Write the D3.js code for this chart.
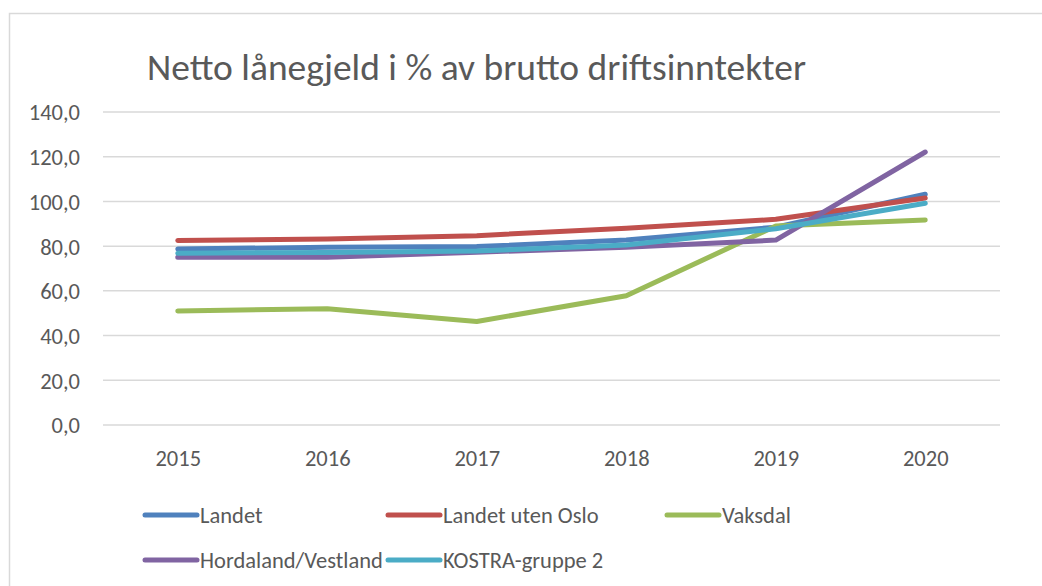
<!DOCTYPE html>
<html>
<head>
<meta charset="utf-8">
<script src="https://cdn.jsdelivr.net/npm/d3@7"></script>
<style>
  body { margin: 0; background: #fff; }
  text { font-family: Carlito, Lato, "Open Sans", sans-serif; fill: #595959; }
</style>
</head>
<body>
<div id="chart"></div>
<script>
var years = ["2015", "2016", "2017", "2018", "2019", "2020"];
var yTicks = [0, 20, 40, 60, 80, 100, 120, 140];

var landet        = [78.7, 79.5, 79.8, 82.7, 88.5, 103.2];
var landetUtenOslo = [82.5, 83.2, 84.7, 88.0, 92.0, 101.5];
var vaksdal       = [51.0, 52.0, 46.3, 57.8, 89.0, 91.7];
var hordaland     = [75.0, 75.0, 77.3, 79.5, 82.7, 122.1];
var kostra        = [76.8, 77.2, 77.8, 80.5, 87.8, 99.2];

var seriesNames = ["Landet", "Landet uten Oslo", "Vaksdal", "Hordaland/Vestland", "KOSTRA-gruppe 2"];
var seriesColours = ["#4F81BD", "#C0504D", "#9BBB59", "#8064A2", "#4BACC6"];

var series = [landet, landetUtenOslo, vaksdal, hordaland, kostra].map(function(v, i) {
  return { name: seriesNames[i], colour: seriesColours[i], values: v };
});

var width = 1042, height = 586;
var plot = { left: 103, right: 1000, top: 112, bottom: 425 };

var svg = d3.select("#chart").append("svg")
    .attr("width", width)
    .attr("height", height);

// chart border (runs off the bottom/right of the picture)
svg.append("rect")
    .attr("x", 9.5).attr("y", 13.5)
    .attr("width", 1060).attr("height", 600)
    .attr("fill", "none")
    .attr("stroke", "#d9d9d9")
    .attr("stroke-width", 1.5);

svg.append("text")
    .attr("x", 147)
    .attr("y", 80)
    .style("font-size", "37.5px")
    .text("Netto lånegjeld i % av brutto driftsinntekter");

var x = d3.scalePoint()
    .domain(years)
    .range([plot.left, plot.right])
    .padding(0.5);

var y = d3.scaleLinear()
    .domain([0, 140])
    .range([plot.bottom, plot.top]);

// gridlines
svg.append("g")
    .selectAll("line")
    .data(yTicks)
    .enter().append("line")
      .attr("x1", plot.left)
      .attr("x2", plot.right)
      .attr("y1", function(d) { return y(d); })
      .attr("y2", function(d) { return y(d); })
      .attr("stroke", "#d9d9d9")
      .attr("stroke-width", 1.5);

var yAxis = svg.append("g")
    .attr("transform", "translate(" + (plot.left - 23) + ",0)")
    .call(d3.axisLeft(y).tickValues(yTicks).tickSize(0)
      .tickFormat(function(d) { return d3.format(".1f")(d).replace(".", ","); }));
yAxis.select(".domain").remove();
yAxis.selectAll("text")
    .attr("x", 0)
    .attr("dy", "0.35em")
    .style("font-size", "22.5px")
    .attr("fill", "#595959");

var xAxis = svg.append("g")
    .attr("transform", "translate(0," + plot.bottom + ")")
    .call(d3.axisBottom(x).tickSize(0));
xAxis.select(".domain").remove();
xAxis.selectAll("text")
    .attr("y", 33)
    .attr("dy", "0.35em")
    .style("font-size", "22.5px")
    .attr("fill", "#595959");

var line = d3.line()
    .x(function(d, i) { return x(years[i]); })
    .y(function(d) { return y(d); });

svg.append("g")
  .selectAll("path")
  .data(series)
  .enter().append("path")
    .attr("d", function(d) { return line(d.values); })
    .attr("fill", "none")
    .attr("stroke", function(d) { return d.colour; })
    .attr("stroke-width", 5)
    .attr("stroke-linecap", "round")
    .attr("stroke-linejoin", "round");

// legend
var legendPos = [[145, 515], [388, 515], [667, 515], [145, 560], [388, 560]];
var legend = svg.append("g")
  .selectAll("g")
  .data(series)
  .enter().append("g")
    .attr("transform", function(d, i) { return "translate(" + legendPos[i][0] + "," + legendPos[i][1] + ")"; });

legend.append("line")
    .attr("x1", 0).attr("x2", 52)
    .attr("stroke", function(d) { return d.colour; })
    .attr("stroke-width", 5)
    .attr("stroke-linecap", "round");

legend.append("text")
    .attr("x", 55)
    .attr("dy", "0.35em")
    .style("font-size", "22.5px")
    .text(function(d) { return d.name; });
</script>
</body>
</html>
